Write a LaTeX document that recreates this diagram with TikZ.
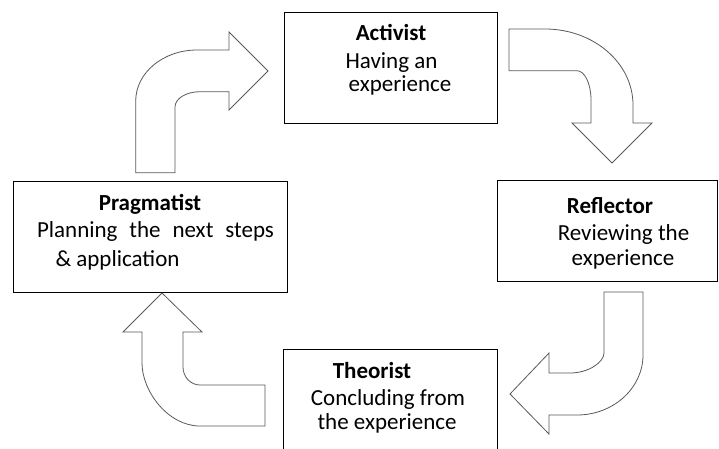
\documentclass[tikz,border=0pt]{standalone}
\usepackage{fontspec}
\setmainfont{Carlito}
\begin{document}
\begin{tikzpicture}[x=1pt,y=-1pt,
  stagebox/.style={draw=black, line width=1pt, fill=white, inner sep=0pt},
  blockarrow/.style={draw=black!65, line width=0.8pt, fill=white, line join=miter},
  txt/.style={anchor=base, inner sep=0pt, font=\fontsize{23}{27}\selectfont},
  head/.style={txt, font=\fontsize{23}{27}\selectfont\bfseries}]
\useasboundingbox (0,0) rectangle (719,448);
\clip (0,0) rectangle (719,448);

% stage boxes
\node[stagebox, minimum width=213pt, minimum height=111pt] (act) at (390.5,67.5) {};
\node[stagebox, minimum width=220pt, minimum height=101pt] (ref) at (607,230.5) {};
\node[stagebox, minimum width=214pt, minimum height=104pt] (the) at (390,401) {};
\node[stagebox, minimum width=274pt, minimum height=111pt] (pra) at (150,236.5) {};

% labels
\node[head] (actH) at (391,40.7) {Activist};
\node[txt]  (actA) at (391.5,68.3) {Having an};
\node[txt]  (actB) at (400,91.5) {experience};

\node[head] (refH) at (610,213) {Reflector};
\node[txt]  (refA) at (623.5,240.7) {Reviewing the};
\node[txt]  (refB) at (623,265) {experience};

\node[head] (theH) at (372,378) {Theorist};
\node[txt]  (theA) at (388,405.5) {Concluding from};
\node[txt]  (theB) at (387,429) {the experience};

\node[head] (praH) at (150,210) {Pragmatist};
\node[txt]  (praA) at (155.5,237.3) {\makebox[237pt][s]{Planning the next steps}};
\node[txt]  (praB) at (117.5,266) {\&~application};

% block arrow: Pragmatist -> Activist
\draw[blockarrow] (135.7,172.7) -- (135.7,101)
  .. controls (135.7,72.8) and (163.2,50) .. (197,50)
  -- (229,50) -- (229,32) -- (268,71) -- (229,110) -- (229,91.7) -- (200,91.7)
  .. controls (186.2,91.7) and (175,98.5) .. (175,107)
  -- (175,172.7) -- cycle;

% block arrow: Activist -> Reflector
\draw[blockarrow] (509,29) -- (545,29)
  .. controls (593.6,29) and (633,63) .. (633,105)
  -- (633,123) -- (652,123) -- (612,163) -- (572,123) -- (591,123) -- (591,100)
  .. controls (591,83.8) and (584.7,70.7) .. (577,70.7)
  -- (509,70.7) -- cycle;

% block arrow: Reflector -> Theorist
\draw[blockarrow] (604,292) -- (643,292) -- (643,355)
  .. controls (643,388) and (613.4,415) .. (577,415)
  -- (549,415) -- (549,434) -- (510,394) -- (549,353) -- (549,373) -- (570,373)
  .. controls (588.8,373) and (604,362) .. (604,353)
  -- cycle;

% block arrow: Theorist -> Pragmatist
\draw[blockarrow] (162,293) -- (202,332) -- (183,332) -- (183,367)
  .. controls (183,377) and (190.6,385) .. (200,385)
  -- (265,385) -- (265,426) -- (200,426)
  .. controls (168,426) and (142,391.2) .. (142,363)
  -- (142,332) -- (123,332) -- cycle;
\end{tikzpicture}
\end{document}
